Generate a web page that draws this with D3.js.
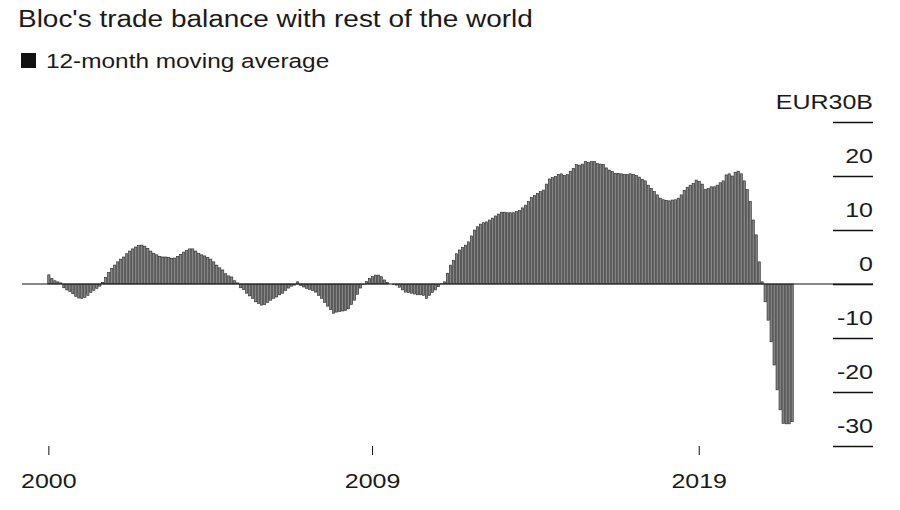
<!DOCTYPE html>
<html>
<head>
<meta charset="utf-8">
<script src="https://cdn.jsdelivr.net/npm/d3@7"></script>
<style>
  html, body { margin: 0; padding: 0; background: #fff; }
  svg { display: block; font-family: "Liberation Sans", Arial, Helvetica, sans-serif; }
</style>
</head>
<body>
<div id="chart"></div>
<script>
const WIDTH  = 900;
const HEIGHT = 510;
const STRETCH = 1.19; // the source type is set wide

const title       = "Bloc's trade balance with rest of the world";
const legendLabel = "12-month moving average";
const unitLabel   = "EUR30B";

// 12-month moving average, EUR billions, one value per month
const values = [
  1.7, 1.0, 0.6, 0.4, 0.2, -0.7, -1.1, -1.4, -1.8, -2.3, -2.6, -2.7,
  -2.5, -2.1, -1.6, -1.2, -0.8, -0.4, 0.3, 1.2, 2.1, 2.9, 3.5, 4.1,
  4.6, 5.0, 5.6, 6.1, 6.5, 6.85, 7.1, 7.2, 7.0, 6.6, 6.1, 5.7,
  5.4, 5.1, 5.0, 5.0, 4.9, 4.75, 4.8, 5.1, 5.5, 5.9, 6.2, 6.5,
  6.5, 6.1, 5.7, 5.4, 5.2, 4.9, 4.6, 4.1, 3.5, 3.0, 2.6, 1.9,
  1.5, 1.3, 0.6, 0.2, -0.7, -1.05, -1.7, -2.2, -2.7, -3.3, -3.6, -3.9,
  -3.8, -3.4, -3.0, -2.65, -2.4, -2.0, -1.7, -1.2, -0.75, -0.4, -0.2, 0.4,
  -0.25, -0.55, -0.8, -1.0, -1.2, -1.5, -2.1, -2.65, -3.4, -4.1, -4.75, -5.4,
  -5.2, -5.1, -5.0, -4.9, -4.6, -3.8, -3.0, -1.9, -0.75, -0.1, 0.45, 1.05,
  1.4, 1.65, 1.65, 1.35, 0.75, 0.25, 0.0, -0.05, -0.2, -0.6, -1.1, -1.5,
  -1.6, -1.7, -1.85, -2.0, -2.0, -2.1, -2.65, -2.1, -1.55, -1.1, -0.5, 0.05,
  0.4, 2.0, 3.5, 4.4, 5.6, 6.3, 6.8, 7.2, 7.8, 8.9, 10.0, 10.6,
  11.1, 11.35, 11.5, 11.85, 12.2, 12.6, 12.95, 13.3, 13.3, 13.2, 13.2, 13.2,
  13.45, 13.65, 14.1, 14.6, 15.25, 16.0, 16.4, 16.8, 17.1, 17.4, 18.5, 19.45,
  19.7, 19.9, 20.3, 20.4, 20.1, 20.25, 20.9, 21.4, 22.1, 22.0, 22.2, 22.65,
  22.55, 22.65, 22.65, 22.3, 22.2, 22.15, 21.5, 21.1, 20.8, 20.5, 20.5, 20.4,
  20.3, 20.3, 20.4, 20.3, 20.1, 19.8, 19.4, 19.1, 18.3, 17.7, 17.1, 16.5,
  15.9, 15.6, 15.5, 15.4, 15.55, 15.6, 15.9, 16.5, 17.35, 17.9, 18.3, 18.6,
  19.25, 19.0, 18.5, 17.5, 17.65, 18.0, 18.0, 18.3, 18.75, 19.1, 20.2, 20.4,
  20.0, 20.7, 20.9, 20.4, 19.1, 17.5, 15.25, 11.85, 9.1, 4.1, 0.4, -3.3,
  -6.7, -10.7, -15.0, -19.6, -23.3, -25.8, -25.9, -25.9, -25.5
];

// x-axis labels and the month index they sit at
const xTickIndex  = [0, 108, 217];
const xTickLabels = ["2000", "2009", "2019"];

// y-axis
const yTicks = [-30, -20, -10, 0, 10, 20, 30];

const svg = d3.select("#chart")
  .append("svg")
  .attr("width", WIDTH)
  .attr("height", HEIGHT);

// title + legend
svg.append("text")
  .attr("transform", `translate(18,27) scale(${STRETCH},1)`)
  .attr("font-size", 23.5)
  .attr("fill", "#1a1a1a")
  .text(title);

svg.append("rect")
  .attr("x", 21).attr("y", 53)
  .attr("width", 15).attr("height", 15)
  .attr("fill", "#111");

svg.append("text")
  .attr("transform", `translate(46,68) scale(${STRETCH},1)`)
  .attr("font-size", 20.5)
  .attr("fill", "#1a1a1a")
  .text(legendLabel);

// scales
const x = d3.scaleBand()
  .domain(d3.range(values.length))
  .range([47, 47 + values.length * 3])
  .padding(0.25);

const y = d3.scaleLinear()
  .domain([-30, 30])
  .range([446, 122]);

// bars
svg.append("g")
  .selectAll("rect")
  .data(values)
  .join("rect")
  .attr("x", (d, i) => x(i))
  .attr("width", x.bandwidth())
  .attr("y", d => y(Math.max(0, d)))
  .attr("height", d => Math.abs(y(d) - y(0)))
  .attr("fill", "#858585")
  .attr("stroke", "#222")
  .attr("stroke-width", 0.6);

// zero line
svg.append("line")
  .attr("x1", 22).attr("x2", 873)
  .attr("y1", y(0)).attr("y2", y(0))
  .attr("stroke", "#111")
  .attr("stroke-width", 1.2);

// y axis: short rules with labels sitting above them
const yAxis = svg.append("g")
  .attr("transform", "translate(873,0)")
  .call(d3.axisLeft(y)
    .tickValues(yTicks)
    .tickSize(40)
    .tickFormat(d => d === 30 ? unitLabel : d));

yAxis.select(".domain").remove();
yAxis.selectAll(".tick line")
  .attr("stroke", "#111")
  .attr("stroke-width", 1.4);
yAxis.selectAll(".tick text")
  .attr("x", 0)
  .attr("dy", 0)
  .attr("transform", `translate(0,-14) scale(${STRETCH},1)`)
  .attr("text-anchor", "end")
  .attr("font-size", 21)
  .attr("font-family", "\"Liberation Sans\", Arial, sans-serif")
  .attr("fill", "#1a1a1a");

// x axis
const xAxis = svg.append("g")
  .attr("transform", `translate(0,${y(-30)})`)
  .call(d3.axisBottom(x)
    .tickValues(xTickIndex)
    .tickSize(9)
    .tickFormat((d, i) => xTickLabels[i]));

xAxis.select(".domain").remove();
xAxis.selectAll(".tick line")
  .attr("stroke", "#111")
  .attr("stroke-width", 1);
xAxis.selectAll(".tick text")
  .attr("y", 0)
  .attr("dy", 0)
  .attr("transform", `translate(0,42) scale(${STRETCH},1)`)
  .attr("font-size", 21)
  .attr("font-family", "\"Liberation Sans\", Arial, sans-serif")
  .attr("fill", "#1a1a1a");
</script>
</body>
</html>
